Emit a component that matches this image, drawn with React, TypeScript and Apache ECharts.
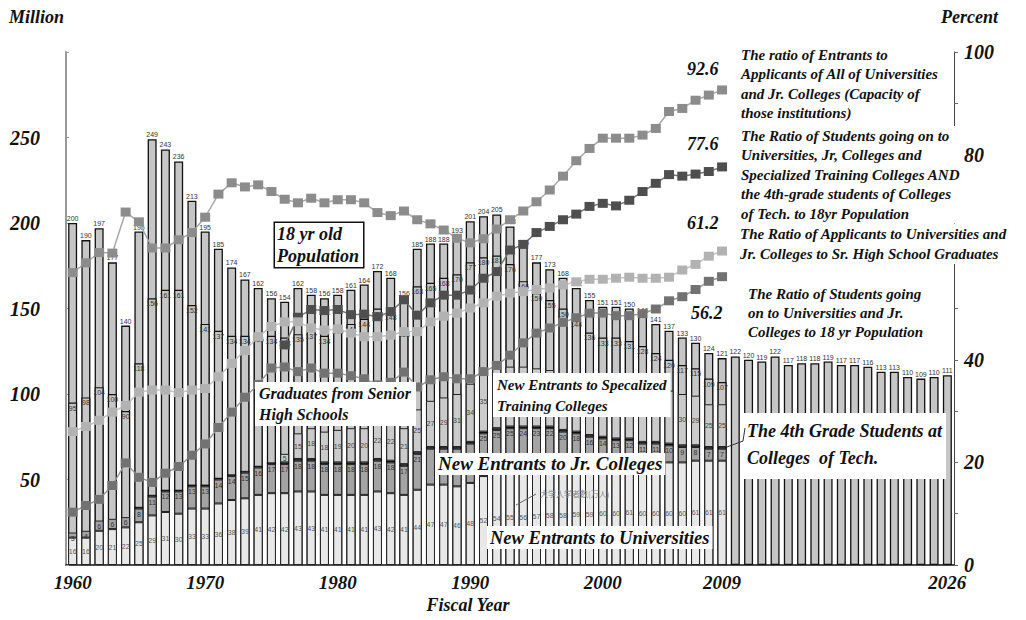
import React, { useEffect, useRef } from "react";
import * as echarts from "echarts";

const years = [
  "1960","1961","1962","1963","1964","1965","1966","1967","1968","1969",
  "1970","1971","1972","1973","1974","1975","1976","1977","1978","1979",
  "1980","1981","1982","1983","1984","1985","1986","1987","1988","1989",
  "1990","1991","1992","1993","1994","1995","1996","1997","1998","1999",
  "2000","2001","2002","2003","2004","2005","2006","2007","2008","2009",
  "2010","2011","2012","2013","2014","2015","2016","2017","2018","2019",
  "2020","2021","2022","2023","2024","2025","2026"
];
const xTickYears = ["1960", "1970", "1980", "1990", "2000", "2009", "2026"];

// 18-year-old population (10k persons)
const pop18 = [
  200, 190, 197, 177, 140, 195, 249, 243, 236, 213,
  195, 185, 174, 167, 162, 156, 154, 162, 158, 156,
  158, 161, 164, 172, 168, 156, 185, 188, 188, 193,
  201, 204, 205, 198, 186, 177, 173, 168, 162, 155,
  151, 151, 150, 146, 141, 137, 133, 130, 124, 121,
  122, 120, 119, 122, 117, 118, 118, 119, 117, 117,
  116, 113, 113, 110, 109, 110, 111
];
// Graduates from senior high schools (1960-2009)
const hsGrads = [
  95, 98, 104, 100, 90, 118, 156, 161, 161, 152,
  141, 137, 134, 134, 135, 134, 133, 135, 137, 134,
  140, 141, 144, 150, 148, 138, 163, 165, 168, 170,
  177, 180, 181, 176, 166, 159, 155, 150, 144, 136,
  133, 133, 131, 128, 124, 120, 117, 115, 109, 107
];
// New entrants to universities
const universities = [
  16, 16, 20, 21, 22, 25, 29, 31, 30, 33,
  33, 36, 38, 39, 41, 42, 42, 43, 43, 41,
  41, 41, 41, 43, 42, 41, 44, 47, 47, 46,
  48, 52, 54, 55, 56, 57, 58, 58, 59, 59,
  60, 60, 61, 60, 60, 60, 60, 61, 61, 61
];
// New entrants to junior colleges
const jrColleges = [
  3, 4, 6, 6, 6, 8, 11, 12, 13, 13,
  13, 14, 14, 15, 16, 17, 17, 18, 18, 18,
  18, 18, 18, 18, 18, 17, 21, 21, 21, 22,
  23, 25, 25, 25, 24, 23, 22, 20, 18, 16,
  14, 13, 12, 11, 11, 10, 9, 8, 7, 7
];
// 4th grade students at colleges of technology
const techFourth = [
  null, null, null, null, null, 1, 1, 1, 1, 1,
  1, 1, 1, 1, 1, 1, 1, 1, 1, 1,
  1, 1, 1, 1, 1, 1, 1, 1, 1, 1,
  1, 1, 1, 1, 1, 1, 1, 1, 1, 1,
  1, 1, 1, 1, 1, 1, 1, 1, 1, 1
];
// New entrants to specialized training colleges
const specialized = [
  null, null, null, null, null, null, null, null, null, null,
  null, null, null, null, null, null, 5, 15, 18, 18,
  19, 20, 20, 22, 22, 21, 25, 27, 29, 31,
  34, 35, 36, 35, 35, 34, 33, 33, 32, 32,
  33, 33, 32, 32, 32, 31, 30, 29, 25, 25
];
// Ratios (percent)
const capacityRatio = [
  57.0, 58.9, 60.9, 60.8, 68.8, 66.9, 61.8, 61.8, 63.4, 64.8,
  67.8, 72.3, 74.5, 73.7, 74.1, 72.8, 71.3, 70.6, 71.5, 70.6,
  71.2, 71.2, 70.6, 68.7, 68.1, 69.0, 67.3, 66.5, 65.3, 63.7,
  62.8, 63.6, 65.5, 67.3, 69.0, 70.8, 73.1, 75.8, 78.8, 81.2,
  83.2, 83.2, 83.2, 83.8, 85.1, 88.4, 89.0, 90.6, 91.6, 92.6
];
const higherEdRatio = [
  null, null, null, null, null, null, null, null, null, null,
  null, null, null, null, null, null, 42.9, 48.3, 49.8, 49.6,
  49.8, 48.8, 48.9, 48.4, 49.4, 51.7, 48.7, 51.1, 52.6, 52.6,
  53.6, 55.9, 57.2, 61.4, 62.5, 64.8, 66.0, 67.3, 68.4, 69.9,
  70.5, 70.0, 71.1, 72.8, 74.4, 76.1, 75.8, 76.2, 76.7, 77.6
];
const applicantRatio = [
  26.0, 27.0, 28.2, 29.8, 31.1, 33.7, 34.1, 34.1, 33.6, 34.1,
  34.4, 36.7, 39.3, 41.8, 44.5, 46.5, 47.4, 47.4, 46.2, 45.8,
  46.0, 45.2, 44.5, 44.5, 44.8, 45.5, 45.5, 47.4, 48.5, 49.1,
  50.1, 51.1, 52.4, 53.0, 53.3, 53.7, 54.0, 54.6, 55.2, 55.7,
  55.7, 55.9, 56.1, 55.9, 55.9, 56.1, 57.5, 58.6, 60.2, 61.2
];
const univJrRatio = [
  10.3, 11.6, 12.8, 15.5, 19.9, 17.1, 16.1, 17.9, 19.2, 21.4,
  23.6, 26.8, 29.8, 32.7, 35.2, 38.4, 38.6, 37.7, 38.4, 37.4,
  37.4, 36.9, 36.3, 35.1, 35.6, 37.6, 34.7, 36.1, 36.7, 36.3,
  36.3, 37.7, 38.9, 40.9, 43.3, 45.2, 46.2, 47.3, 48.2, 49.1,
  49.1, 48.6, 48.6, 49.0, 49.9, 51.5, 52.3, 53.7, 55.3, 56.2
];

// years whose in-bar labels are hidden behind the annotation boxes
const jrLabelHidden = ["1987", "1988", "1989", "1990"];
const specLabelHidden = [
  "1992", "1993", "1994", "1995", "1996", "1997", "1998",
  "1999", "2000", "2001", "2002", "2003", "2004", "2005"
];

const SERIF = '"Liberation Serif", "DejaVu Serif", serif';
const BAR_W = 9;

function note(text: string, x: number, y: number, size: number, extra: any = {}) {
  return {
    type: "text",
    x,
    y,
    z: 100,
    style: {
      text,
      fontSize: size,
      fontStyle: "italic",
      fontWeight: "bold",
      fontFamily: SERIF,
      fill: "#111",
      align: "left",
      verticalAlign: "top",
      ...extra,
    },
  };
}

const smallLabel = (pos: string) => ({
  show: true,
  position: pos,
  fontSize: 7,
  color: "#333",
  fontFamily: "Liberation Sans, sans-serif",
  distance: 1,
});

const hideFor = (list: string[]) => (p: any) =>
  list.includes(years[p.dataIndex]) || p.value == null ? "" : String(p.value);

export default function App() {
  const ref = useRef<HTMLDivElement>(null);
  useEffect(() => {
    if (!ref.current) return;
    const chart = echarts.init(ref.current, null, { renderer: "svg" });
    const barBase = {
      type: "bar",
      barWidth: BAR_W,
      barGap: "-100%",
      yAxisIndex: 0,
    };
    const lineBase = (color: string, mark: string) => ({
      type: "line",
      yAxisIndex: 1,
      symbol: "rect",
      symbolSize: [10, 9],
      showSymbol: true,
      showAllSymbol: true,
      connectNulls: false,
      lineStyle: { color, width: 1.5 },
      itemStyle: { color: mark },
      z: 5,
    });
    const axisFont = {
      fontStyle: "italic",
      fontWeight: "bold",
      fontFamily: SERIF,
      color: "#111",
    };
    chart.setOption({
      animation: false,
      backgroundColor: "#ffffff",
      textStyle: { fontFamily: SERIF },
      grid: { left: 66, right: 72, top: 52, bottom: 55 },
      xAxis: {
        type: "category",
        data: years,
        axisLine: { lineStyle: { color: "#111", width: 1.5 } },
        axisTick: { show: false },
        axisLabel: {
          interval: (i: number, v: string) => xTickYears.includes(v),
          margin: 8,
          fontSize: 19,
          ...axisFont,
        },
      },
      yAxis: [
        {
          type: "value",
          min: 0,
          max: 300,
          interval: 50,
          splitLine: { show: false },
          axisLine: { show: true, lineStyle: { color: "#999", width: 2 } },
          axisTick: { show: true, inside: true, length: 3, lineStyle: { color: "#999" } },
          axisLabel: {
            formatter: (v: number) => (v === 0 || v === 300 ? "" : String(v)),
            margin: 26,
            fontSize: 20,
            ...axisFont,
          },
        },
        {
          type: "value",
          min: 0,
          max: 100,
          interval: 10,
          splitLine: { show: false },
          axisLine: { show: true, lineStyle: { color: "#444", width: 1 } },
          axisTick: { show: true, length: 4, lineStyle: { color: "#666" } },
          axisLabel: {
            // 60 is hidden behind the annotation in the reference
            formatter: (v: number) => (v % 20 === 0 && v !== 60 ? String(v) : ""),
            margin: 10,
            fontSize: 20,
            ...axisFont,
          },
        },
      ],
      series: [
        {
          ...barBase,
          name: "18 yr old Population",
          data: pop18,
          itemStyle: { color: "#c6c6c6", borderColor: "#111", borderWidth: 1.3 },
          label: smallLabel("top"),
        },
        {
          ...barBase,
          name: "Graduates from Senior High Schools",
          data: hsGrads,
          itemStyle: { color: "#c6c6c6", borderColor: "#111", borderWidth: 1.2 },
          label: { ...smallLabel("insideTop"), distance: 2 },
        },
        {
          ...barBase,
          name: "New Entrants to Universities",
          stack: "entrants",
          data: universities,
          itemStyle: { color: "#e8e8e8", borderColor: "#222", borderWidth: 1 },
          label: { ...smallLabel("inside"), color: "#555" },
        },
        {
          ...barBase,
          name: "New Entrants to Jr. Colleges",
          stack: "entrants",
          data: jrColleges,
          itemStyle: { color: "#a4a4a4", borderColor: "#222", borderWidth: 1 },
          label: {
            ...smallLabel("insideTop"),
            distance: 2,
            color: "#333",
            formatter: hideFor(jrLabelHidden),
          },
        },
        {
          ...barBase,
          name: "The 4th Grade Students at Colleges of Tech.",
          stack: "entrants",
          data: techFourth,
          itemStyle: { color: "#111", borderColor: "#111", borderWidth: 0.5 },
        },
        {
          ...barBase,
          name: "New Entrants to Specialized Training Colleges",
          stack: "entrants",
          data: specialized,
          itemStyle: { color: "#cbcbcb", borderColor: "#222", borderWidth: 1 },
          label: { ...smallLabel("inside"), color: "#444", formatter: hideFor(specLabelHidden) },
        },
        {
          ...lineBase("#a8a8a8", "#8c8c8c"),
          name: "Capacity ratio",
          data: capacityRatio,
        },
        {
          ...lineBase("#777777", "#4e4e4e"),
          name: "Higher education ratio",
          data: higherEdRatio,
        },
        {
          ...lineBase("#c4c4c4", "#b2b2b2"),
          name: "Applicant ratio",
          data: applicantRatio,
        },
        {
          ...lineBase("#999999", "#727272"),
          name: "Univ and Jr. College ratio",
          data: univJrRatio,
        },
      ],
      graphic: [
        note("Million", 9, 8, 18),
        note("Percent", 941, 8, 18),
        note("Fiscal Year", 468, 596, 18, { align: "center" }),
        note("92.6", 687, 60, 18),
        note("77.6", 687, 135, 18),
        note("61.2", 687, 214, 18),
        note("56.2", 691, 304, 18),
        note(
          "The ratio of Entrants to\nApplicants of All of Universities\nand Jr. Colleges (Capacity of\nthose institutions)",
          739, 45, 15, { lineHeight: 19.5, backgroundColor: "#fff", padding: [0, 2, 0, 2] }
        ),
        note(
          "The Ratio of Students going on to\nUniversities, Jr, Colleges and\nSpecialized Training Colleges AND\nthe 4th-grade students of Colleges\nof Tech. to 18yr Population",
          739, 126, 15, { lineHeight: 19.5, backgroundColor: "#fff", padding: [0, 2, 0, 2] }
        ),
        note(
          "The Ratio of Applicants to Universities and\nJr. Colleges to Sr. High School Graduates",
          738, 224, 15, { lineHeight: 20, backgroundColor: "#fff", padding: [0, 12, 0, 2] }
        ),
        note(
          "The Ratio of Students going\non to Universities and Jr.\nColleges to 18 yr Population",
          746, 284, 15, { lineHeight: 19, backgroundColor: "#fff", padding: [0, 2, 0, 2] }
        ),
        note("18 yr old\nPopulation", 275, 223, 18, {
          lineHeight: 22,
          backgroundColor: "#fff",
          borderColor: "#111",
          borderWidth: 1.5,
          padding: [0, 4, 0, 2],
        }),
        note("Graduates from Senior\nHigh Schools", 255, 382, 16, {
          lineHeight: 21,
          backgroundColor: "#fff",
          padding: [1, 5, 1, 4],
        }),
        note("New Entrants to Specalized\nTraining Colleges", 493, 373, 15, {
          lineHeight: 21,
          backgroundColor: "#fff",
          padding: [1, 4, 1, 4],
        }),
        note("New Entrants to Jr. Colleges", 435, 453, 19, {
          backgroundColor: "#fff",
          padding: [1, 3, 2, 3],
        }),
        note("New Entrants to Universities", 487, 526, 18.5, {
          backgroundColor: "#fff",
          padding: [2, 3, 2, 3],
        }),
        note("The 4th Grade Students at\nColleges  of Tech.", 744, 413, 18, {
          lineHeight: 27,
          backgroundColor: "#fff",
          padding: [4, 4, 8, 3],
        }),
        {
          type: "polyline",
          z: 101,
          shape: { points: [[745, 428], [743, 441], [727, 447]] },
          style: { stroke: "#333", lineWidth: 1, fill: null },
        },
        {
          type: "text",
          x: 540,
          y: 489,
          z: 100,
          style: {
            text: "大学入学者数(万人)",
            fontSize: 8,
            fontFamily: '"Noto Sans CJK JP", sans-serif',
            fill: "#8a8a8a",
            verticalAlign: "top",
          },
        },
        {
          type: "polyline",
          z: 101,
          shape: { points: [[536, 494], [516, 505]] },
          style: { stroke: "#666", lineWidth: 1, fill: null },
        },
      ],
    });
    return () => chart.dispose();
  }, []);
  return (
    <div
      ref={ref}
      style={{ position: "absolute", left: 0, top: 0, width: 1026, height: 620, background: "#fff" }}
    />
  );
}
